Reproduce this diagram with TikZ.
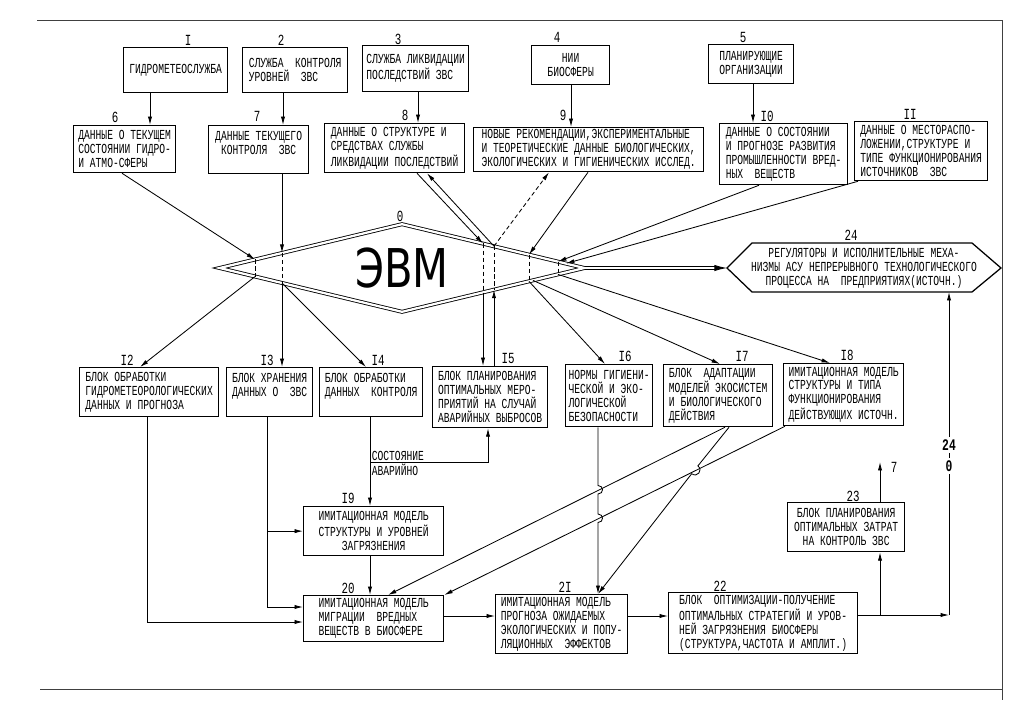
\documentclass[tikz,border=0pt]{standalone}
\usepackage{fontspec}
\usetikzlibrary{arrows.meta}
\usetikzlibrary{shapes.geometric}
\newfontfamily\asufont[FakeStretch=0.7]{Liberation Mono}
\newfontfamily\evmfont[FakeStretch=0.78]{DejaVu Sans}
\tikzset{
	asu/.style={
		x=0.025cm, y=-0.025cm,
		line width=0.6pt,
		>={Latex[length=6pt,width=3pt]},
		font=\asufont\fontsize{9.8}{9.9}\selectfont
	},
	asubox/.style 2 args={
		draw,
		line width=0.9pt,
		anchor=north west,
		inner sep=1.5pt,
		align=left,
		minimum width=#1*0.025cm,
		minimum height=#2*0.025cm
	},
	asumid/.style={align=center},
	asunum/.style={inner sep=1pt, font=\asufont\fontsize{11}{11}\selectfont},
	asubold/.style={inner sep=1.5pt, font=\asufont\bfseries\fontsize{11.5}{11.5}\selectfont},
	evmshape/.style={
		diamond, draw,
		double, double distance=1.6pt,
		inner sep=0pt, aspect=4.15,
		minimum width=365*0.025cm,
		minimum height=88*0.025cm,
		font=\evmfont\fontsize{38}{38}\selectfont
	},
	evmpass/.style={dashed, dash pattern=on 3pt off 2pt},
	sheet/.style={line width=0.7pt, black!75}
}

\begin{document}
\begin{tikzpicture}[asu]
	\useasboundingbox (0,0) rectangle (1024,708);
	\draw[sheet] (37,20) -- (1002,20) -- (1002,700);
	\draw[sheet] (40,689) -- (1002,689);

	\node[asubox={104}{45}] (b1) at (123,47) {ГИДРОМЕТЕОСЛУЖБА};
	\node[asubox={105}{45}] (b2) at (242,47) {СЛУЖБА~ КОНТРОЛЯ\\УРОВНЕЙ~ ЗВС};
	\node[asubox={106}{46}] (b3) at (362,45) {СЛУЖБА ЛИКВИДАЦИИ\\ПОСЛЕДСТВИЙ ЗВС};
	\node[asubox={78}{39}, asumid] (b4) at (531,45) {НИИ\\БИОСФЕРЫ};
	\node[asubox={85}{39}, asumid] (b5) at (708,44) {ПЛАНИРУЮЩИЕ\\ОРГАНИЗАЦИИ};
	\node[asubox={102}{47}] (b6) at (73,125) {ДАННЫЕ О ТЕКУЩЕМ\\СОСТОЯНИИ ГИДРО-\\И АТМО-СФЕРЫ};
	\node[asubox={100}{48}, asumid] (b7) at (208,125) {ДАННЫЕ ТЕКУЩЕГО\\КОНТРОЛЯ~ ЗВС\\~};
	\node[asubox={140}{49}] (b8) at (324,123) {ДАННЫЕ О СТРУКТУРЕ И\\СРЕДСТВАХ СЛУЖБЫ\\ЛИКВИДАЦИИ ПОСЛЕДСТВИЙ};
	\node[asubox={230}{43}] (b9) at (473,127) {НОВЫЕ РЕКОМЕНДАЦИИ,ЭКСПЕРИМЕНТАЛЬНЫЕ\\И ТЕОРЕТИЧЕСКИЕ ДАННЫЕ БИОЛОГИЧЕСКИХ,\\ЭКОЛОГИЧЕСКИХ И ГИГИЕНИЧЕСКИХ ИССЛЕД.};
	\node[asubox={128}{61}] (b10) at (719,123) {ДАННЫЕ О СОСТОЯНИИ\\И ПРОГНОЗЕ РАЗВИТИЯ\\ПРОМЫШЛЕННОСТИ ВРЕД-\\НЫХ~ ВЕЩЕСТВ};
	\node[asubox={133}{59}] (b11) at (854,121) {ДАННЫЕ О МЕСТОРАСПО-\\ЛОЖЕНИИ,СТРУКТУРЕ И\\ТИПЕ ФУНКЦИОНИРОВАНИЯ\\ИСТОЧНИКОВ~ ЗВС};

	\node[asunum] (n1) at (188,40) {I};
	\node[asunum] (n2) at (281,40) {2};
	\node[asunum] (n3) at (398,39) {3};
	\node[asunum] (n4) at (557,37) {4};
	\node[asunum] (n5) at (743,37) {5};
	\node[asunum] (n6) at (115,117) {6};
	\node[asunum] (n7) at (257,116) {7};
	\node[asunum] (n8) at (405,115) {8};
	\node[asunum] (n9) at (563,115) {9};
	\node[asunum] (n10) at (767,116) {I0};
	\node[asunum] (n11) at (910,114) {II};

	\draw[->] (150,0 |- b1.south) -- (150,0 |- b6.north);
	\draw[->] (283,0 |- b2.south) -- (283,0 |- b7.north);
	\draw[->] (418,0 |- b3.south) -- (418,0 |- b8.north);
	\draw[->] (571,0 |- b4.south) -- (571,0 |- b9.north);
	\draw[->] (753,0 |- b5.south) -- (753,0 |- b10.north);

	\node[evmshape] (evm) at (402,268) {ЭВМ};
	\node[asunum] (n0) at (400,216) {0};
	\coordinate (v6a) at (255,259.4);
	\coordinate (v6b) at (255,276.6);
	\coordinate (v7a) at (282,252.9);
	\coordinate (v7b) at (282,283.1);
	\coordinate (v8a) at (483,243.5);
	\coordinate (v8b) at (483,292.5);
	\coordinate (v15a) at (494,246.2);
	\coordinate (v15b) at (494,289.8);
	\coordinate (v9a) at (529,254.6);
	\coordinate (v9b) at (529,281.4);
	\coordinate (v17) at (533,280.4);
	\coordinate (v10a) at (558,261.6);
	\coordinate (v10b) at (558,274.4);
	\coordinate (v11) at (566,263.5);

	\node[asumid] (b24) at (864,268) {РЕГУЛЯТОРЫ И ИСПОЛНИТЕЛЬНЫЕ МЕХА-\\НИЗМЫ АСУ НЕПРЕРЫВНОГО ТЕХНОЛОГИЧЕСКОГО\\ПРОЦЕССА НА~ ПРЕДПРИЯТИЯХ(ИСТОЧН.)};
	\draw[line width=0.9pt] (727,268) -- (752,243) -- (972,243) -- (1001,268) -- (972,292) -- (752,292) -- cycle;
	\coordinate (h24w) at (727,268);
	\coordinate (h24s) at (949,292);
	\node[asunum] (n24) at (851,235) {24};

	\node[asubox={139}{49}] (b12) at (79,367) {БЛОК ОБРАБОТКИ\\ГИДРОМЕТЕОРОЛОГИЧЕСКИХ\\ДАННЫХ И ПРОГНОЗА};
	\node[asubox={86}{49}] (b13) at (226,367) {БЛОК ХРАНЕНИЯ\\ДАННЫХ О~ ЗВС\\~};
	\node[asubox={103}{49}] (b14) at (319,367) {БЛОК ОБРАБОТКИ\\ДАННЫХ~ КОНТРОЛЯ\\~};
	\node[asubox={115}{61}] (b15) at (432,366) {БЛОК ПЛАНИРОВАНИЯ\\ОПТИМАЛЬНЫХ МЕРО-\\ПРИЯТИЙ НА СЛУЧАЙ\\АВАРИЙНЫХ ВЫБРОСОВ};
	\node[asubox={87}{62}] (b16) at (565,364) {НОРМЫ ГИГИЕНИ-\\ЧЕСКОЙ И ЭКО-\\ЛОГИЧЕСКОЙ\\БЕЗОПАСНОСТИ};
	\node[asubox={109}{62}] (b17) at (663,364) {БЛОК~ АДАПТАЦИИ\\МОДЕЛЕЙ ЭКОСИСТЕМ\\И БИОЛОГИЧЕСКОГО\\ДЕЙСТВИЯ};
	\node[asubox={120}{62}] (b18) at (783,363) {ИМИТАЦИОННАЯ МОДЕЛЬ\\СТРУКТУРЫ И ТИПА\\ФУНКЦИОНИРОВАНИЯ\\ДЕЙСТВУЮЩИХ ИСТОЧН.};
	\node[asubox={140}{49}, asumid] (b19) at (303,506) {ИМИТАЦИОННАЯ МОДЕЛЬ\\СТРУКТУРЫ И УРОВНЕЙ\\ЗАГРЯЗНЕНИЯ};
	\node[asubox={140}{46}] (b20) at (303,595) {ИМИТАЦИОННАЯ МОДЕЛЬ\\МИГРАЦИИ~ ВРЕДНЫХ\\ВЕЩЕСТВ В БИОСФЕРЕ};
	\node[asubox={132}{59}] (b21) at (495,594) {ИМИТАЦИОННАЯ МОДЕЛЬ\\ПРОГНОЗА ОЖИДАЕМЫХ\\ЭКОЛОГИЧЕСКИХ И ПОПУ-\\ЛЯЦИОННЫХ~ ЭФФЕКТОВ};
	\node[asubox={189}{61}] (b22) at (668,592) {БЛОК~ ОПТИМИЗАЦИИ-ПОЛУЧЕНИЕ\\ОПТИМАЛЬНЫХ СТРАТЕГИЙ И УРОВ-\\НЕЙ ЗАГРЯЗНЕНИЯ БИОСФЕРЫ\\(СТРУКТУРА,ЧАСТОТА И АМПЛИТ.)};
	\node[asubox={117}{49}, asumid] (b23) at (787,502) {БЛОК ПЛАНИРОВАНИЯ\\ОПТИМАЛЬНЫХ ЗАТРАТ\\НА КОНТРОЛЬ ЗВС};

	\node[asunum] (n12) at (127,360) {I2};
	\node[asunum] (n13) at (267,360) {I3};
	\node[asunum] (n14) at (378,360) {I4};
	\node[asunum] (n15) at (508,358) {I5};
	\node[asunum] (n16) at (625,356) {I6};
	\node[asunum] (n17) at (742,356) {I7};
	\node[asunum] (n18) at (847,355) {I8};
	\node[asunum] (n19) at (348,498) {I9};
	\node[asunum] (n20) at (348,588) {20};
	\node[asunum] (n21) at (565,587) {2I};
	\node[asunum] (n22) at (720,586) {22};
	\node[asunum] (n23) at (853,496) {23};

	\draw[->] (122,0 |- b6.south) -- (v6a);
	\draw[evmpass] (v6a) -- (v6b);
	\draw[->] (v6b) -- (140,0 |- b12.north);
	\draw[->] (282,0 |- b7.south) -- (v7a);
	\draw[evmpass] (v7a) -- (v7b);
	\draw[->] (v7b) -- (282,0 |- b13.north);
	\draw[->] (v7b) -- (366,0 |- b14.north);
	\draw[->] (417,0 |- b8.south) -- (v8a);
	\draw[->] (v15a) -- (427,0 |- b8.south);
	\draw[evmpass] (v8a) -- (v8b);
	\draw[evmpass] (v15a) -- (v15b);
	\draw[->] (v8b) -- (483,0 |- b15.north);
	\draw[->] (494,0 |- b15.north) -- (v15b);
	\draw[evmpass, ->] (v15a) -- (549,0 |- b9.south);
	\draw[->] (588,0 |- b9.south) -- (v9a);
	\draw[evmpass] (v9a) -- (v9b);
	\draw[->] (v9b) -- (605,0 |- b16.north);
	\draw[->] (v17) -- (720,0 |- b17.north);
	\draw[->] (759,0 |- b10.south) -- (v10a);
	\draw[->] (858,0 |- b11.south) -- (v11);
	\draw[evmpass] (v10a) -- (v10b);
	\draw[->] (v10b) -- (830,0 |- b18.north);
	\draw[double, double distance=1.5pt, -{Latex[length=9pt,width=4.5pt]}] (evm.east) -- (h24w);

	\draw[->] (147,0 |- b12.south) |- (b20.west |- 0,622);
	\draw[->] (267,0 |- b13.south) |- (b20.west |- 0,607);
	\draw[->] (267,0 |- b19.west) -- (b19.west);
	\draw[->] (370,0 |- b14.south) -- (370,0 |- b19.north);
	\coordinate (avar) at (370,462);
	\draw[->] (avar) -| (488,0 |- b15.south);
	\node[anchor=south west, inner sep=1pt] (lsost) at (avar) {СОСТОЯНИЕ};
	\node[anchor=north west, inner sep=1pt] (lavar) at (avar) {АВАРИЙНО};
	\draw[->] (370,0 |- b19.south) -- (370,0 |- b20.north);
	\draw[->] (725,0 |- b17.south) -- (388,0 |- b20.north);
	\draw[->] (785,0 |- b18.south) -- (b20.north east);
	\draw[->] (729,0 |- b17.south) -- (697.9,465.9) .. controls (703.4,470.2) and (697.2,478.0) .. (691.7,473.7) -- (598,0 |- b21.north);
	\draw[->] (598,0 |- b16.south) -- (598,485.5) .. controls (604,485.5) and (604,494) .. (598,494) -- (598,514) .. controls (604,514) and (604,522.5) .. (598,522.5) -- (598,0 |- b21.north);
	\draw[->] (b20.east |- 0,616) -- (b21.west |- 0,616);
	\draw[->] (b21.east |- 0,616) -- (b22.west |- 0,616);

	\coordinate (j22) at (949,615);
	\node[asubold] (n0b) at (949,466) {0};
	\node[asubold] (n24b) at (949,445) {24};
	\draw[->] (b22.east |- j22) -- (j22);
	\draw (j22) -- (n0b);
	\draw (n24b) -- (n0b);
	\draw[->] (n24b) -- (n24b |- h24s);
	\draw[->] (880,0 |- j22) -- (880,0 |- b23.south);
	\draw[->] (880,0 |- b23.north) -- (880,462);
	\node[asunum] (n7b) at (894,467) {7};
\end{tikzpicture}
\end{document}
